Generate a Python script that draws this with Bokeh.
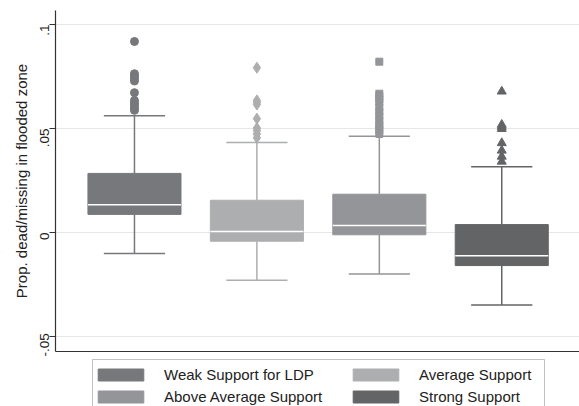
from bokeh.plotting import figure
from bokeh.models import FixedTicker, Legend, LegendItem, Range1d, ColumnDataSource, BoxAnnotation
from bokeh.layouts import column
from bokeh.embed import file_html
from bokeh.resources import INLINE
from math import pi

# ---- data ----
groups = ["Weak Support for LDP", "Average Support", "Above Average Support", "Strong Support"]
positions = [1, 2, 3, 4]
q1 = [0.0087, -0.0042, -0.0011, -0.0159]
median = [0.0133, 0.0005, 0.0034, -0.0112]
q3 = [0.0284, 0.0155, 0.0184, 0.0038]
lower_whisker = [-0.0101, -0.0229, -0.0200, -0.0348]
upper_whisker = [0.0561, 0.0433, 0.0462, 0.0316]
outliers = [
    [0.0918, 0.0763, 0.0752, 0.0740, 0.0728, 0.0672, 0.0635, 0.0622, 0.0610, 0.0598, 0.0587],
    [0.0792, 0.0635, 0.0625, 0.0615, 0.0547, 0.0502, 0.0490, 0.0474, 0.0455],
    [0.0821, 0.0667, 0.0655, 0.0640, 0.0627, 0.0600, 0.0579, 0.0560, 0.0538, 0.0520, 0.0505, 0.0490, 0.0474],
    [0.0678, 0.0518, 0.0508, 0.0498, 0.0430, 0.0394, 0.0365, 0.0341],
]
y_ticks = [-0.05, 0, 0.05, 0.1]
y_tick_labels = ["-.05", "0", ".05", ".1"]

colors = ["#77787b", "#adaeb0", "#949598", "#636466"]
markers = ["circle", "diamond", "square", "triangle"]
marker_sizes = [8, 11, 7, 9]

FONT = "Liberation Sans"
TEXT = "#222222"
AXIS = "#333333"

p = figure(width=579, height=356, output_backend="svg", toolbar_location=None,
           x_range=Range1d(0.355, 4.635), y_range=Range1d(-0.0572, 0.1067),
           min_border_left=55, min_border_top=10, min_border_right=0, min_border_bottom=5)
p.outline_line_color = None

box_w = 0.76
cap_w = 0.5
for i in range(4):
    x = positions[i]
    c = colors[i]
    src = ColumnDataSource(dict(x=[x], lw=[lower_whisker[i]], uw=[upper_whisker[i]],
                                q1=[q1[i]], q3=[q3[i]], med=[median[i]],
                                x0=[x - cap_w / 2], x1=[x + cap_w / 2],
                                bx0=[x - box_w / 2], bx1=[x + box_w / 2]))
    p.segment(x0="x", x1="x", y0="q3", y1="uw", source=src, line_color=c, line_width=1.5)
    p.segment(x0="x", x1="x", y0="q1", y1="lw", source=src, line_color=c, line_width=1.5)
    p.segment(x0="x0", x1="x1", y0="uw", y1="uw", source=src, line_color=c, line_width=1.5)
    p.segment(x0="x0", x1="x1", y0="lw", y1="lw", source=src, line_color=c, line_width=1.5)
    p.vbar(x="x", width=box_w, bottom="q1", top="q3", source=src,
           fill_color=c, line_color=c, line_width=1)
    p.segment(x0="bx0", x1="bx1", y0="med", y1="med", source=src, line_color="white", line_width=1.5)
    p.scatter(x=[x] * len(outliers[i]), y=outliers[i], marker=markers[i],
              size=marker_sizes[i], fill_color=c, line_color=c)

# axes
p.xaxis.ticker = FixedTicker(ticks=[])
p.xaxis.major_tick_line_color = None
p.xaxis.minor_tick_line_color = None
p.xaxis.major_tick_out = 0
p.xaxis.major_tick_in = 0
p.xaxis.major_label_text_font_size = "0px"
p.xaxis.major_label_standoff = 0
p.xaxis.axis_line_color = AXIS
p.xaxis.axis_line_width = 1.2

p.yaxis.ticker = FixedTicker(ticks=y_ticks)
p.yaxis.major_label_overrides = {t: l for t, l in zip(y_ticks, y_tick_labels)}
p.yaxis.major_label_orientation = pi / 2
p.yaxis.major_label_text_font = FONT
p.yaxis.major_label_text_font_size = "13.5px"
p.yaxis.major_label_text_color = TEXT
p.yaxis.major_label_standoff = 5
p.yaxis.major_tick_in = 0
p.yaxis.major_tick_out = 6
p.yaxis.major_tick_line_color = AXIS
p.yaxis.minor_tick_line_color = None
p.yaxis.axis_line_color = AXIS
p.yaxis.axis_line_width = 1.2
p.yaxis.axis_label = "Prop. dead/missing in flooded zone"
p.yaxis.axis_label_text_font = FONT
p.yaxis.axis_label_text_font_size = "15px"
p.yaxis.axis_label_text_font_style = "normal"
p.yaxis.axis_label_text_color = TEXT
p.yaxis.axis_label_standoff = 3

p.xgrid.grid_line_color = None
p.ygrid.grid_line_color = "#e6e6e6"
p.ygrid.grid_line_width = 1

# ---- legend strip below the plot (frame aligned with the plot's; 1 unit = 1 px of page) ----
q = figure(width=579, height=50, output_backend="svg", toolbar_location=None,
           x_range=Range1d(55, 579), y_range=Range1d(0, 50),
           x_axis_location=None, y_axis_location=None,
           min_border_left=55, min_border_top=0, min_border_right=0, min_border_bottom=0)
q.grid.visible = False
q.outline_line_color = None

swatch = []
for i in range(4):
    r = q.vbar(x=[positions[i]], width=box_w, bottom=[q1[i]], top=[q3[i]],
               fill_color=colors[i], line_color=colors[i], visible=False)
    swatch.append(LegendItem(label=groups[i], renderers=[r]))

q.add_layout(BoxAnnotation(left=92, right=544, top=47, bottom=-20,
                           fill_color=None, line_color=AXIS, line_width=1))


def make_legend(its, x):
    lg = Legend(items=its, location=(x, 1), orientation="vertical")
    lg.glyph_width = 57
    lg.glyph_height = 15
    lg.label_standoff = 15
    lg.spacing = 5
    lg.padding = 6
    lg.margin = 0
    lg.label_text_font = FONT
    lg.label_text_font_size = "15px"
    lg.label_text_color = TEXT
    lg.border_line_color = None
    lg.background_fill_alpha = 0
    return lg


q.add_layout(make_legend([swatch[0], swatch[2]], 92 - 55), "center")
q.add_layout(make_legend([swatch[1], swatch[3]], 347 - 55), "center")

layout = column(p, q, spacing=0)
open("out.html", "w").write(file_html(layout, INLINE))
